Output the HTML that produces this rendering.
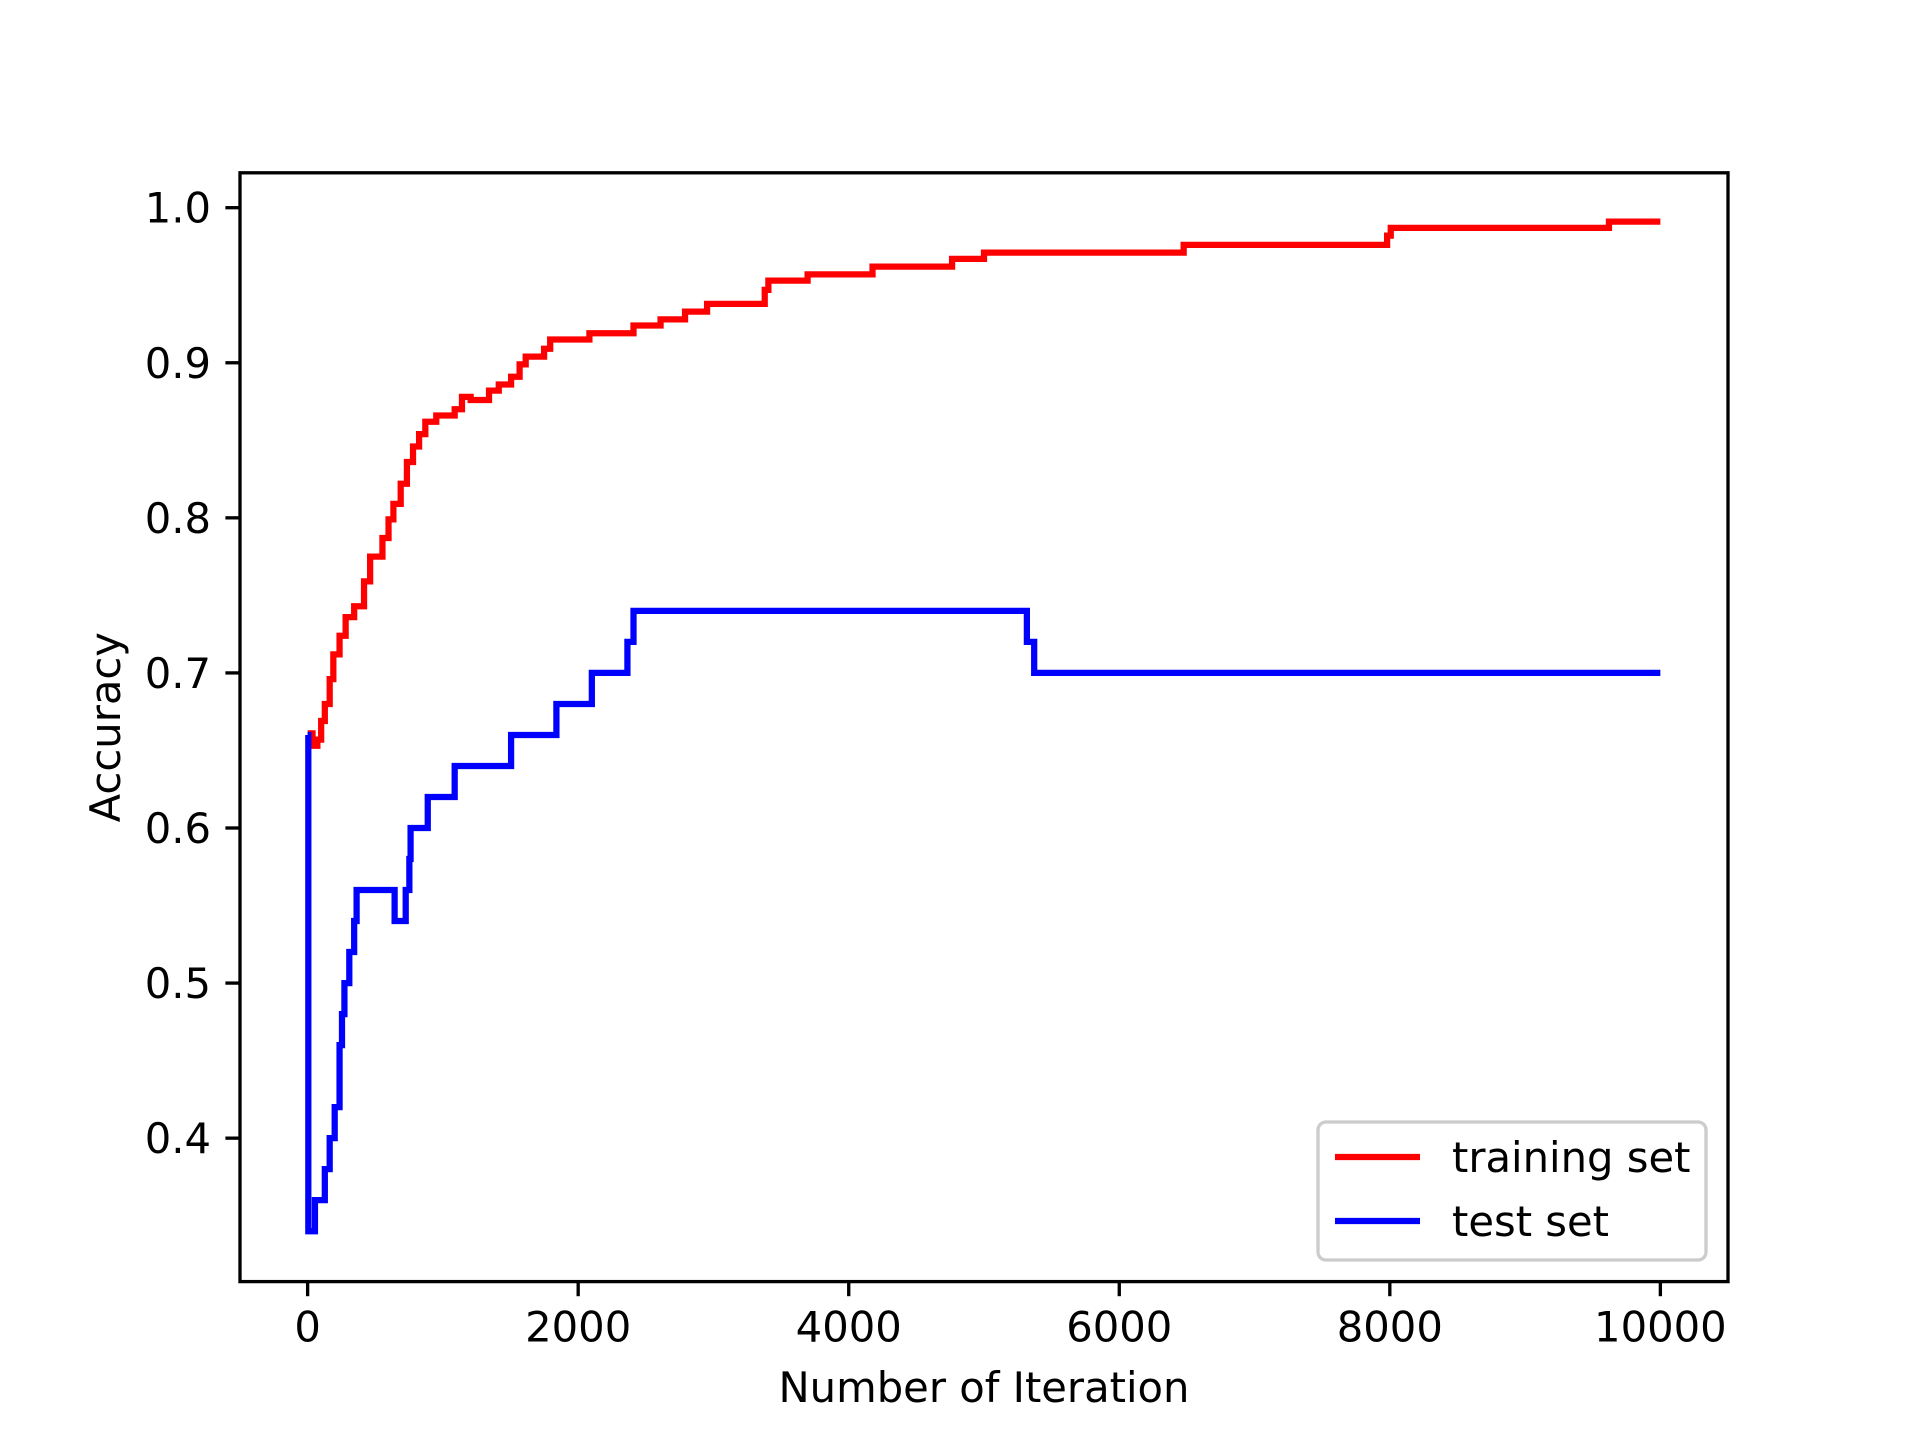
<!DOCTYPE html>
<html><head><meta charset="utf-8"><style>
html,body{margin:0;padding:0;background:#fff;}
svg{display:block;font-family:"DejaVu Sans","Liberation Sans",sans-serif;}
</style></head><body>
<svg id="chart" width="1920" height="1440" viewBox="0 0 1920 1440" xmlns="http://www.w3.org/2000/svg">
<rect width="1920" height="1440" fill="#fff"/>
<g id="plot"></g>
</svg>
<script>
const xTicks = [0, 2000, 4000, 6000, 8000, 10000];
const yTicks = [0.4, 0.5, 0.6, 0.7, 0.8, 0.9, 1.0];
const yTickLabels = ["0.4","0.5","0.6","0.7","0.8","0.9","1.0"];
const trainX = [0,36,72,100,127,163,190,236,281,344,417,462,553,598,634,688,734,779,824,870,951,1087,1141,1205,1341,1413,1504,1567,1612,1748,1793,2083,2409,2609,2790,2953,3379,3406,3696,4176,4764,5000,6476,7980,8007,9620,10000];
const trainY = [0.661,0.653,0.657,0.669,0.680,0.696,0.712,0.724,0.736,0.743,0.759,0.775,0.787,0.799,0.809,0.822,0.836,0.846,0.854,0.862,0.866,0.870,0.878,0.876,0.882,0.886,0.891,0.899,0.904,0.909,0.915,0.919,0.924,0.928,0.933,0.938,0.947,0.953,0.957,0.962,0.967,0.971,0.976,0.982,0.987,0.991,0.991];
const testX = [0,5,54,127,163,200,236,254,272,308,344,362,643,725,752,761,888,1087,1504,1839,2101,2364,2409,5317,5371,10000];
const testY = [0.66,0.34,0.36,0.38,0.40,0.42,0.46,0.48,0.50,0.52,0.54,0.56,0.54,0.56,0.58,0.60,0.62,0.64,0.66,0.68,0.70,0.72,0.74,0.72,0.70,0.70];

const L=240,R=1728,T=172.8,B=1281.6;
const xMin=-500,xMax=10500,yMin=0.3075,yMax=1.0225;
const sx=v=>L+(v-xMin)/(xMax-xMin)*(R-L);
const sy=v=>B-(v-yMin)/(yMax-yMin)*(B-T);
const NS="http://www.w3.org/2000/svg";
const g=document.getElementById('plot');
function mk(tag,attrs,parent){const e=document.createElementNS(NS,tag);for(const k in attrs)e.setAttribute(k,attrs[k]);(parent||g).appendChild(e);return e;}

function stepPath(xs,ys){let d=`M${sx(xs[0])},${sy(ys[0])}`;for(let i=1;i<xs.length;i++){d+=`L${sx(xs[i])},${sy(ys[i-1])}L${sx(xs[i])},${sy(ys[i])}`;}return d;}

let p=mk('path',{d:stepPath(trainX,trainY),fill:'none',stroke:'#ff0000','stroke-width':6.25,'stroke-linejoin':'miter'});


p=mk('path',{d:stepPath(testX,testY),fill:'none',stroke:'#0000ff','stroke-width':6.25,'stroke-linejoin':'miter'});



let f=mk('rect',{x:L,y:T,width:R-L,height:B-T,fill:'none',stroke:'#000','stroke-width':3.33});



xTicks.forEach(v=>{
  const x=sx(v);
  let t=mk('line',{x1:x,y1:B,x2:x,y2:B+14.6,stroke:'#000','stroke-width':3.33});
  
  
  let tx=mk('text',{x:x,y:B+60,'font-size':41.7,'text-anchor':'middle',fill:'#000'});
  tx.textContent=String(v);
  
  
});
yTicks.forEach((v,i)=>{
  const y=sy(v);
  let t=mk('line',{x1:L-14.6,y1:y,x2:L,y2:y,stroke:'#000','stroke-width':3.33});
  
  
  let tx=mk('text',{x:L-29,y:y+15,'font-size':41.7,'text-anchor':'end',fill:'#000'});
  tx.textContent=yTickLabels[i];
  
  
});
let xl=mk('text',{x:(L+R)/2,y:1402,'font-size':41.7,'text-anchor':'middle',fill:'#000'});
xl.textContent='Number of Iteration';


let yl=mk('text',{x:0,y:0,'font-size':41.7,'text-anchor':'middle',fill:'#000',transform:`translate(120,${(T+B)/2}) rotate(-90)`});
yl.textContent='Accuracy';



const lg=mk('g',{});


mk('rect',{x:1318,y:1122,width:388,height:138,rx:8,fill:'#fff','fill-opacity':0.8,stroke:'#cccccc','stroke-width':3.33},lg);
const entries=[['training set','#ff0000',1157],['test set','#0000ff',1221]];
entries.forEach(e=>{
  let ln=mk('line',{x1:1335,y1:e[2],x2:1420,y2:e[2],stroke:e[1],'stroke-width':6.25},lg);
  
  
  let tx=mk('text',{x:1452,y:e[2]+15,'font-size':41.7,fill:'#000'},lg);
  tx.textContent=e[0];
  
  
});
</script>
</body></html>
